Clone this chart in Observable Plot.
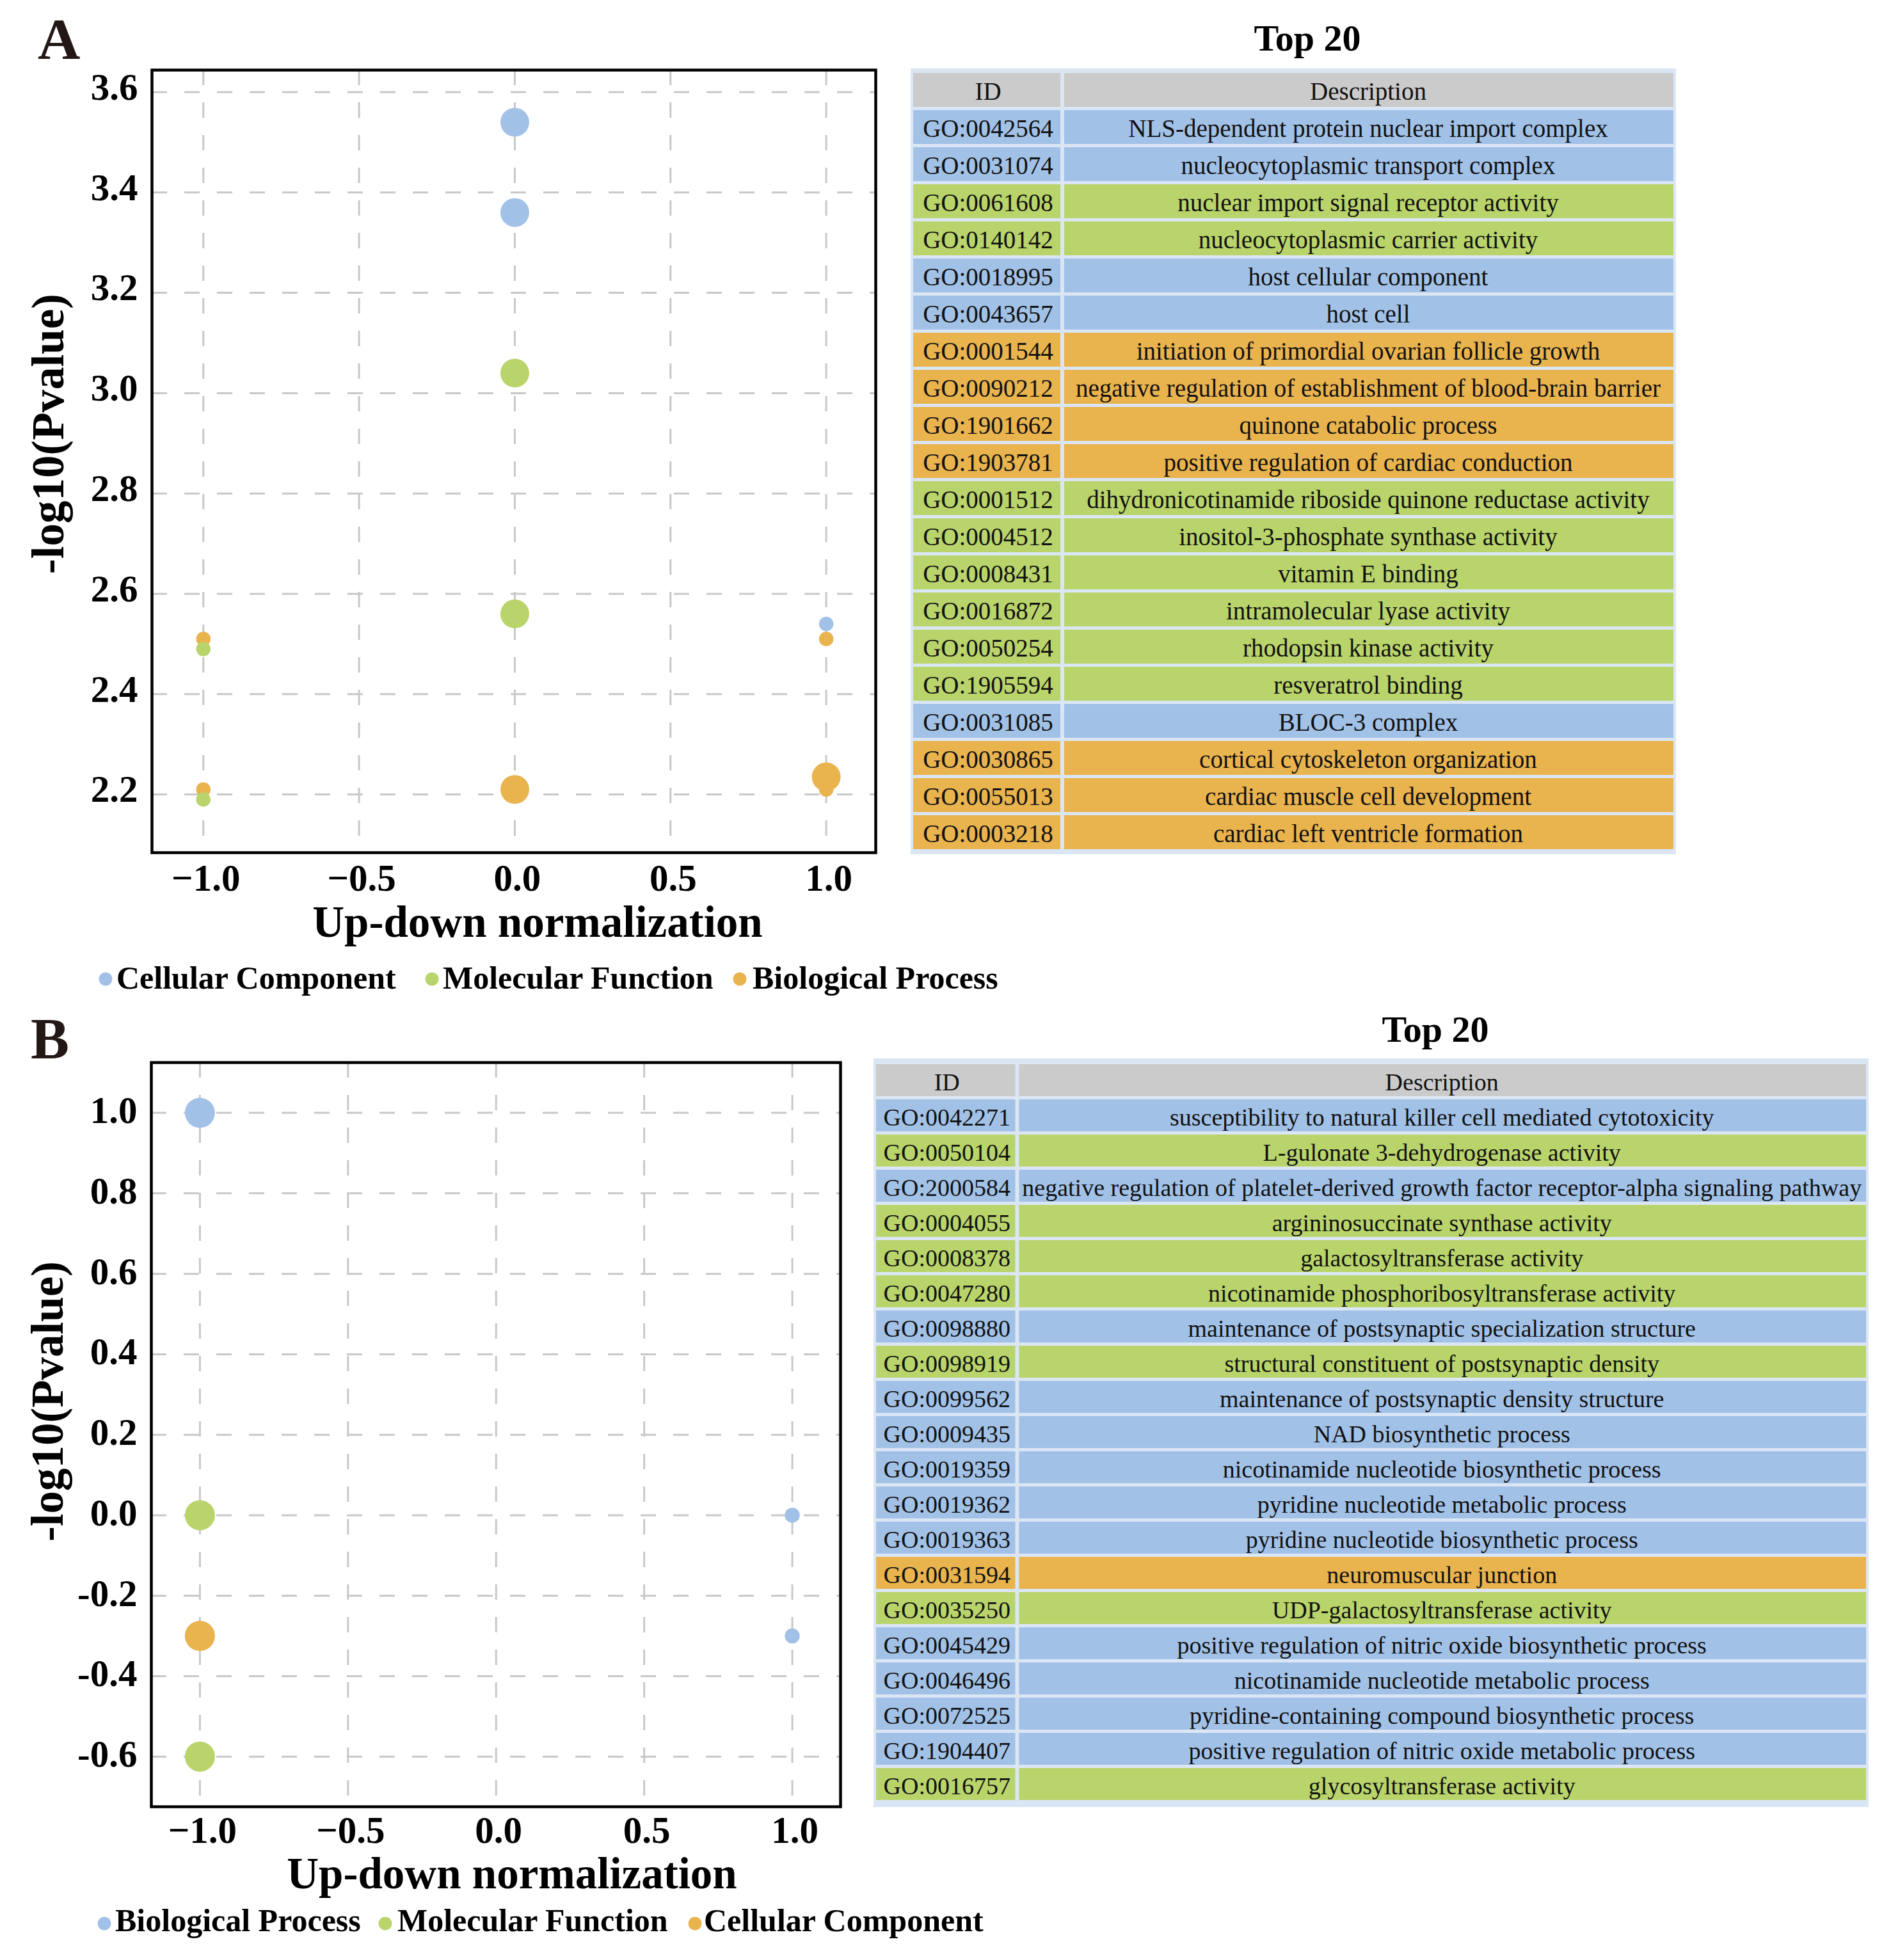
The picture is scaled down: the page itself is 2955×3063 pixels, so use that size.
<!DOCTYPE html>
<html><head><meta charset="utf-8">
<script src="https://cdn.jsdelivr.net/npm/d3@7"></script>
<script src="https://cdn.jsdelivr.net/npm/@observablehq/plot@0.6"></script>
<style>
html,body{margin:0;padding:0;background:#fff;}
#page{position:relative;width:2955px;height:3063px;overflow:hidden;background:#fff;}
#page > svg{position:absolute;max-width:none;}
</style></head><body><div id="page"></div>
<script>
// ---------------- DATA ----------------
// Panel A scatter (drawing order kept)
const dotCatA = ["Biological Process","Biological Process","Biological Process","Biological Process","Biological Process","Biological Process","Molecular Function","Molecular Function","Molecular Function","Molecular Function","Cellular Component","Cellular Component","Cellular Component"];
const dotXA = [1, -1, -1, 1, 1, 0, -1, -1, 0, 0, 0, 0, 1];
const dotYA = [2.21, 2.51, 2.21, 2.51, 2.235, 2.21, 2.49, 2.19, 3.04, 2.56, 3.54, 3.36, 2.54];
const dotCountA = [1, 1, 1, 1, 4, 4, 1, 1, 4, 4, 4, 4, 1];
const legendA = ["Cellular Component","Molecular Function","Biological Process"];
const yTicksA = [2.2, 2.4, 2.6, 2.8, 3.0, 3.2, 3.4, 3.6];

// Panel B scatter
const dotCatB = ["Biological Process","Molecular Function","Cellular Component","Molecular Function","Biological Process","Biological Process"];
const dotXB = [-1, -1, -1, -1, 1, 1];
const dotYB = [1.0, 0.0, -0.3, -0.6, 0.0, -0.3];
const dotCountB = [4, 4, 4, 4, 1, 1];
const legendB = ["Biological Process","Molecular Function","Cellular Component"];
const yTicksB = [-0.6, -0.4, -0.2, 0.0, 0.2, 0.4, 0.6, 0.8, 1.0];

const xTicks = [-1, -0.5, 0, 0.5, 1];

// Panel A table
const idsA = ["GO:0042564","GO:0031074","GO:0061608","GO:0140142","GO:0018995","GO:0043657","GO:0001544","GO:0090212","GO:1901662","GO:1903781","GO:0001512","GO:0004512","GO:0008431","GO:0016872","GO:0050254","GO:1905594","GO:0031085","GO:0030865","GO:0055013","GO:0003218"];
const descA = ["NLS-dependent protein nuclear import complex","nucleocytoplasmic transport complex","nuclear import signal receptor activity","nucleocytoplasmic carrier activity","host cellular component","host cell","initiation of primordial ovarian follicle growth","negative regulation of establishment of blood-brain barrier","quinone catabolic process","positive regulation of cardiac conduction","dihydronicotinamide riboside quinone reductase activity","inositol-3-phosphate synthase activity","vitamin E binding","intramolecular lyase activity","rhodopsin kinase activity","resveratrol binding","BLOC-3 complex","cortical cytoskeleton organization","cardiac muscle cell development","cardiac left ventricle formation"];
const catA = ["Cellular Component","Cellular Component","Molecular Function","Molecular Function","Cellular Component","Cellular Component","Biological Process","Biological Process","Biological Process","Biological Process","Molecular Function","Molecular Function","Molecular Function","Molecular Function","Molecular Function","Molecular Function","Cellular Component","Biological Process","Biological Process","Biological Process"];

// Panel B table
const idsB = ["GO:0042271","GO:0050104","GO:2000584","GO:0004055","GO:0008378","GO:0047280","GO:0098880","GO:0098919","GO:0099562","GO:0009435","GO:0019359","GO:0019362","GO:0019363","GO:0031594","GO:0035250","GO:0045429","GO:0046496","GO:0072525","GO:1904407","GO:0016757"];
const descB = ["susceptibility to natural killer cell mediated cytotoxicity","L-gulonate 3-dehydrogenase activity","negative regulation of platelet-derived growth factor receptor-alpha signaling pathway","argininosuccinate synthase activity","galactosyltransferase activity","nicotinamide phosphoribosyltransferase activity","maintenance of postsynaptic specialization structure","structural constituent of postsynaptic density","maintenance of postsynaptic density structure","NAD biosynthetic process","nicotinamide nucleotide biosynthetic process","pyridine nucleotide metabolic process","pyridine nucleotide biosynthetic process","neuromuscular junction","UDP-galactosyltransferase activity","positive regulation of nitric oxide biosynthetic process","nicotinamide nucleotide metabolic process","pyridine-containing compound biosynthetic process","positive regulation of nitric oxide metabolic process","glycosyltransferase activity"];
const catB = ["Biological Process","Molecular Function","Biological Process","Molecular Function","Molecular Function","Molecular Function","Biological Process","Molecular Function","Biological Process","Biological Process","Biological Process","Biological Process","Biological Process","Cellular Component","Molecular Function","Biological Process","Biological Process","Biological Process","Biological Process","Molecular Function"];

const tableTitle = "Top 20";
const yTitle = "-log10(Pvalue)";
const xTitle = "Up-down normalization";

// ---------------- STYLE ----------------
const FONT = '"Liberation Serif","Times New Roman",serif';
const COLORS = ["#a2c1e7", "#b9d46b", "#e9b34e"];
const GRID = "#c8c8c8";
const GAP = "#dbe6f4";
const HEADER = "#cbcbcb";

const page = document.getElementById("page");
function place(el, left, top) {
  el.style.position = "absolute";
  el.style.left = left + "px";
  el.style.top = top + "px";
  el.style.maxWidth = "none";
  page.appendChild(el);
}

function makeScatter(cats, xs, ys, counts, o) {
  const data = cats.map((c, i) => ({cat: c, x: xs[i], y: ys[i], count: counts[i]}));
  const gridOpts = {stroke: GRID, strokeOpacity: 1, strokeWidth: 3, strokeDasharray: "24,27"};
  return Plot.plot({
    width: o.width, height: o.height,
    marginTop: o.mt, marginRight: o.mr, marginBottom: o.mb, marginLeft: o.ml,
    x: {domain: o.xDomain},
    y: {domain: o.yDomain},
    r: {type: "sqrt", domain: [0, 4], range: [0, o.rMax]},
    color: {domain: o.colorDomain, range: COLORS},
    style: {fontFamily: FONT, fontWeight: "bold", fontSize: "59px", color: "#000", background: "transparent", overflow: "visible"},
    marks: [
      Plot.gridX(xTicks, gridOpts),
      Plot.gridY(o.yTicks, gridOpts),
      Plot.dot(data, {x: "x", y: "y", r: "count", fill: "cat", sort: null}),
      Plot.frame({stroke: "#000", strokeWidth: 4.5}),
      Plot.axisX(xTicks, {tickSize: 0, tickPadding: o.xtp, tickFormat: d3.format(".1f"), fontSize: 59, fontWeight: "bold", dx: 4, label: null}),
      Plot.axisY(o.yTicks, {tickSize: 0, tickPadding: 22, tickFormat: d => d.toFixed(1), fontSize: 59, fontWeight: "bold", dy: o.ytdy, label: null}),
      Plot.text([yTitle], {frameAnchor: "left", rotate: -90, textAnchor: "middle", dx: -161, dy: o.yTitleDy, lineAnchor: "middle", fontSize: 71, fontWeight: "bold"}),
      Plot.text([xTitle], {frameAnchor: "bottom", textAnchor: "middle", dx: o.xTitleDx, dy: o.xTitleDy, lineAnchor: "bottom", fontSize: 69, fontWeight: "bold"})
    ]
  });
}

function makeTable(ids, descs, cats, colorDomain, o) {
  const header = [{id: "ID", desc: "Description"}];
  const rows = ids.map((id, i) => ({id, desc: descs[i], cat: cats[i]}));
  const all = header.concat(rows);
  const textOpts = {fontSize: o.fs, fill: "#111", dy: 3, fontWeight: "normal"};
  return Plot.plot({
    width: o.width, height: o.height,
    marginTop: o.mt, marginBottom: o.mb, marginLeft: o.ml, marginRight: o.mr,
    x: {domain: [0, 1], axis: null},
    y: {type: "band", domain: ["ID"].concat(ids), paddingInner: o.pad, paddingOuter: 0, axis: null},
    color: {domain: colorDomain, range: COLORS},
    style: {background: GAP, fontFamily: FONT, fontSize: o.fs + "px", color: "#111"},
    marks: [
      Plot.barX(header, {x1: 0, x2: o.split, y: "id", fill: HEADER, insetRight: 3}),
      Plot.barX(header, {x1: o.split, x2: 1, y: "id", fill: HEADER, insetLeft: 3}),
      Plot.barX(rows, {x1: 0, x2: o.split, y: "id", fill: "cat", insetRight: 3}),
      Plot.barX(rows, {x1: o.split, x2: 1, y: "id", fill: "cat", insetLeft: 3}),
      Plot.text(all, {x: o.split / 2, y: "id", text: "id", ...textOpts}),
      Plot.text(all, {x: (1 + o.split) / 2, y: "id", text: "desc", ...textOpts})
    ]
  });
}

// Panel A
place(makeScatter(dotCatA, dotXA, dotYA, dotCountA, {
  width: 1400, height: 1480, mt: 109, mr: 32, mb: 148, ml: 237,
  xDomain: [-1.165, 1.159], yDomain: [2.084, 3.644], yTicks: yTicksA,
  rMax: 22.5, colorDomain: legendA, xtp: 18, ytdy: -7,
  yTitleDy: -43, xTitleDx: 37, xTitleDy: 131
}), 0, 0);

// Panel B
place(makeScatter(dotCatB, dotXB, dotYB, dotCountB, {
  width: 1400, height: 1420, mt: 100, mr: 87, mb: 157, ml: 236,
  xDomain: [-1.164, 1.163], yDomain: [-0.7245, 1.125], yTicks: yTicksB,
  rMax: 23.5, colorDomain: legendB, xtp: 15, ytdy: -3,
  yTitleDy: -52, xTitleDx: 25, xTitleDy: 127
}), 0, 1560);

// Tables
place(makeTable(idsA, descA, catA, legendA, {
  width: 1196, height: 1228, mt: 5, mb: 5, ml: 4, mr: 4, split: 0.1961, pad: 0.086, fs: 39
}), 1423, 107);
place(makeTable(idsB, descB, catB, legendB, {
  width: 1555, height: 1170, mt: 5, mb: 6, ml: 4, mr: 4, split: 0.1425, pad: 0.09, fs: 38
}), 1365, 1654);

// Overlay: panel letters, table titles, legends
const ov = d3.create("svg").attr("width", 2955).attr("height", 3063)
  .style("position", "absolute").style("left", "0px").style("top", "0px")
  .style("font-family", FONT);
function txt(s, x, y, size, anchor, weight, fill) {
  ov.append("text").attr("x", x).attr("y", y).attr("font-size", size)
    .attr("text-anchor", anchor).attr("font-weight", weight).attr("fill", fill).text(s);
}
txt("A", 59, 92, 92, "start", "bold", "#231815");
txt("B", 48, 1654, 90, "start", "bold", "#231815");
txt(tableTitle, 2043, 79, 58, "middle", "bold", "#000");
txt(tableTitle, 2243, 1628, 58, "middle", "bold", "#000");

function legend(items, dotXs, textXs, dotY, baseY) {
  const col = d3.scaleOrdinal(items, COLORS);
  items.forEach((name, i) => {
    ov.append("circle").attr("cx", dotXs[i]).attr("cy", dotY).attr("r", 10.5).attr("fill", col(name));
    txt(name, textXs[i], baseY, 50, "start", "bold", "#000");
  });
}
legend(legendA, [165, 675, 1156], [182, 692, 1176], 1530, 1545);
legend(legendB, [163, 602, 1086], [180, 621, 1100], 3006, 3018);
page.appendChild(ov.node());
</script>
</body></html>
